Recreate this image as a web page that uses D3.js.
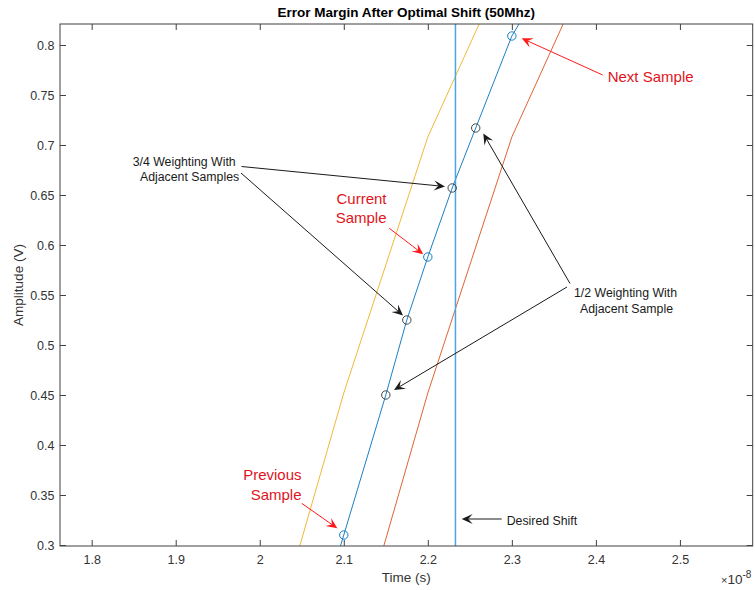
<!DOCTYPE html>
<html><head><meta charset="utf-8">
<script src="https://cdn.jsdelivr.net/npm/d3@7"></script>
<style>body{margin:0;background:#fff}svg{display:block;font-family:"Liberation Sans",Arial,Helvetica,sans-serif}</style>
</head><body><svg id="c" width="755" height="590"></svg>
<script>
// ---- data (time in units of 1e-8 s, amplitude in V) ----
const xTicks = [1.8, 1.9, 2.0, 2.1, 2.2, 2.3, 2.4, 2.5];
const xTickLabels = ["1.8", "1.9", "2", "2.1", "2.2", "2.3", "2.4", "2.5"];
const yTicks = [0.3, 0.35, 0.4, 0.45, 0.5, 0.55, 0.6, 0.65, 0.7, 0.75, 0.8];
const yTickLabels = ["0.3", "0.35", "0.4", "0.45", "0.5", "0.55", "0.6", "0.65", "0.7", "0.75", "0.8"];
const shiftedTimes = [2.0, 2.1, 2.15, 2.175, 2.2, 2.229, 2.257, 2.3, 2.4];
const shiftedValues = [0.03, 0.31, 0.45, 0.525, 0.588, 0.657, 0.717, 0.809, 0.95];
const sampleTimes = [2.1, 2.2, 2.3];
const sampleValues = [0.31, 0.588, 0.809];
const weightedTimes = [2.15, 2.175, 2.229, 2.257];
const weightedValues = [0.45, 0.525, 0.657, 0.717];
const earlyTimes = [2.0, 2.1, 2.2, 2.3];
const earlyValues = [0.16, 0.452, 0.708, 0.893];
const lateTimes = [2.1, 2.2, 2.3, 2.4];
const lateValues = [0.16, 0.452, 0.708, 0.893];
const desiredShift = 2.2329;
const xDomain = [1.7623, 2.5866];
const yDomain = [0.299, 0.821];

// ---- layout ----
const L = 60, R = 752.7, T = 24, B = 546;
const svg = d3.select("#c");
const x = d3.scaleLinear().domain(xDomain).range([L, R]);
const y = d3.scaleLinear().domain(yDomain).range([B, T]);
const axisCol = "#404040", textCol = "#333333";

svg.append("defs").append("clipPath").attr("id", "clip")
  .append("rect").attr("x", L).attr("y", T).attr("width", R - L).attr("height", B - T);

// axes
const gx = svg.append("g").attr("transform", `translate(0,${B})`)
  .call(d3.axisBottom(x).tickValues(xTicks).tickFormat((d, i) => xTickLabels[i]).tickSizeInner(-6).tickSizeOuter(0).tickPadding(9.6));
const gxt = svg.append("g").attr("transform", `translate(0,${T})`)
  .call(d3.axisTop(x).tickValues(xTicks).tickFormat("").tickSizeInner(-6).tickSizeOuter(0));
const gy = svg.append("g").attr("transform", `translate(${L},0)`)
  .call(d3.axisLeft(y).tickValues(yTicks).tickFormat((d, i) => yTickLabels[i]).tickSizeInner(-6).tickSizeOuter(0).tickPadding(5.5));
const gyr = svg.append("g").attr("transform", `translate(${R},0)`)
  .call(d3.axisRight(y).tickValues(yTicks).tickFormat("").tickSizeInner(-6).tickSizeOuter(0));
[gx, gxt, gy, gyr].forEach(g => {
  g.select(".domain").remove();
  g.selectAll(".tick line").attr("stroke", axisCol).attr("stroke-width", 1);
  g.selectAll("text").attr("fill", textCol).style("font-size", "12.5px").attr("font-family", null);
});

// series
const plot = svg.append("g").attr("clip-path", "url(#clip)");
const line = d3.line().x(d => x(d[0])).y(d => y(d[1]));
const series = [
  {t: earlyTimes, v: earlyValues, c: "#EDB120"},
  {t: lateTimes, v: lateValues, c: "#D95319"},
  {t: shiftedTimes, v: shiftedValues, c: "#0072BD"}
];
series.forEach(s => {
  plot.append("path").datum(d3.zip(s.t, s.v)).attr("d", line)
    .attr("fill", "none").attr("stroke", s.c).attr("stroke-width", 0.9);
});
plot.append("line").attr("x1", x(desiredShift)).attr("x2", x(desiredShift))
  .attr("y1", y(yDomain[0])).attr("y2", y(yDomain[1]))
  .attr("stroke", "#4aa6e2").attr("stroke-width", 1.5);

plot.selectAll("circle.s").data(d3.zip(sampleTimes, sampleValues)).join("circle")
  .attr("class", "s").attr("cx", d => x(d[0])).attr("cy", d => y(d[1])).attr("r", 4.2)
  .attr("fill", "none").attr("stroke", "#0072BD").attr("stroke-width", 0.9);
plot.selectAll("circle.w").data(d3.zip(weightedTimes, weightedValues)).join("circle")
  .attr("class", "w").attr("cx", d => x(d[0])).attr("cy", d => y(d[1])).attr("r", 4.2)
  .attr("fill", "none").attr("stroke", "#333").attr("stroke-width", 0.9);

// box
svg.append("rect").attr("x", L).attr("y", T).attr("width", R - L).attr("height", B - T)
  .attr("fill", "none").attr("stroke", axisCol).attr("stroke-width", 1);

// title & labels
svg.append("text").attr("x", (L + R) / 2).attr("y", 17).attr("text-anchor", "middle")
  .attr("font-weight", "bold").style("font-size", "13.5px").attr("fill", "#000")
  .text("Error Margin After Optimal Shift (50Mhz)");
svg.append("text").attr("x", (L + R) / 2).attr("y", 582).attr("text-anchor", "middle")
  .style("font-size", "13.5px").attr("fill", textCol).text("Time (s)");
svg.append("text").attr("transform", `translate(23,${(T + B) / 2}) rotate(-90)`).attr("text-anchor", "middle")
  .style("font-size", "13.5px").attr("fill", textCol).text("Amplitude (V)");
const ex = svg.append("text").attr("x", 721).attr("y", 584).attr("fill", textCol);
ex.append("tspan").style("font-size", "11px").text("×");
ex.append("tspan").style("font-size", "13.5px").text("10");
ex.append("tspan").style("font-size", "10px").attr("dy", -6).text("-8");

// annotations (pixel layout)
function arrow(x1, y1, x2, y2, col) {
  const a = Math.atan2(y2 - y1, x2 - x1), hl = 11, hw = 5, notch = 6.5;
  const ux = Math.cos(a), uy = Math.sin(a), px = -uy, py = ux;
  const bx = x2 - ux * hl, by = y2 - uy * hl;
  const nx = x2 - ux * notch, ny = y2 - uy * notch;
  svg.append("line").attr("x1", x1).attr("y1", y1).attr("x2", nx).attr("y2", ny)
    .attr("stroke", col).attr("stroke-width", 1);
  svg.append("path").attr("d", `M${x2},${y2}L${bx + px * hw},${by + py * hw}L${nx},${ny}L${bx - px * hw},${by - py * hw}Z`)
    .attr("fill", col).attr("stroke", "none");
}
function label(xp, yp, txt, anchor, size, col) {
  svg.append("text").attr("x", xp).attr("y", yp).attr("text-anchor", anchor)
    .style("font-size", size + "px").attr("fill", col).text(txt);
}
const red = "#ff1a1a", redText = "#e0141e", blk = "#1a1a1a";
arrow(602.7, 75, 521.7, 38.3, red);
label(607.7, 82, "Next Sample", "start", 15, redText);
arrow(389.3, 228.3, 423.3, 254.3, red);
label(386.5, 204, "Current", "end", 15, redText);
label(386.5, 223, "Sample", "end", 15, redText);
arrow(301.7, 503.3, 337.3, 528.3, red);
label(301.5, 480, "Previous", "end", 15, redText);
label(301.5, 499.5, "Sample", "end", 15, redText);

arrow(241.5, 166.5, 445, 186.5, blk);
arrow(241, 173, 403, 315.5, blk);
label(132.7, 165.5, "3/4 Weighting With", "start", 12.3, blk);
label(140, 181, "Adjacent Samples", "start", 12.3, blk);

arrow(570, 283.5, 483.3, 133.5, blk);
arrow(567, 287, 394, 390, blk);
label(574, 297, "1/2 Weighting With", "start", 12.3, blk);
label(580, 312.5, "Adjacent Sample", "start", 12.3, blk);

arrow(501.7, 519, 461.7, 519, blk);
label(506.7, 525, "Desired Shift", "start", 12.3, blk);
</script></body></html>
